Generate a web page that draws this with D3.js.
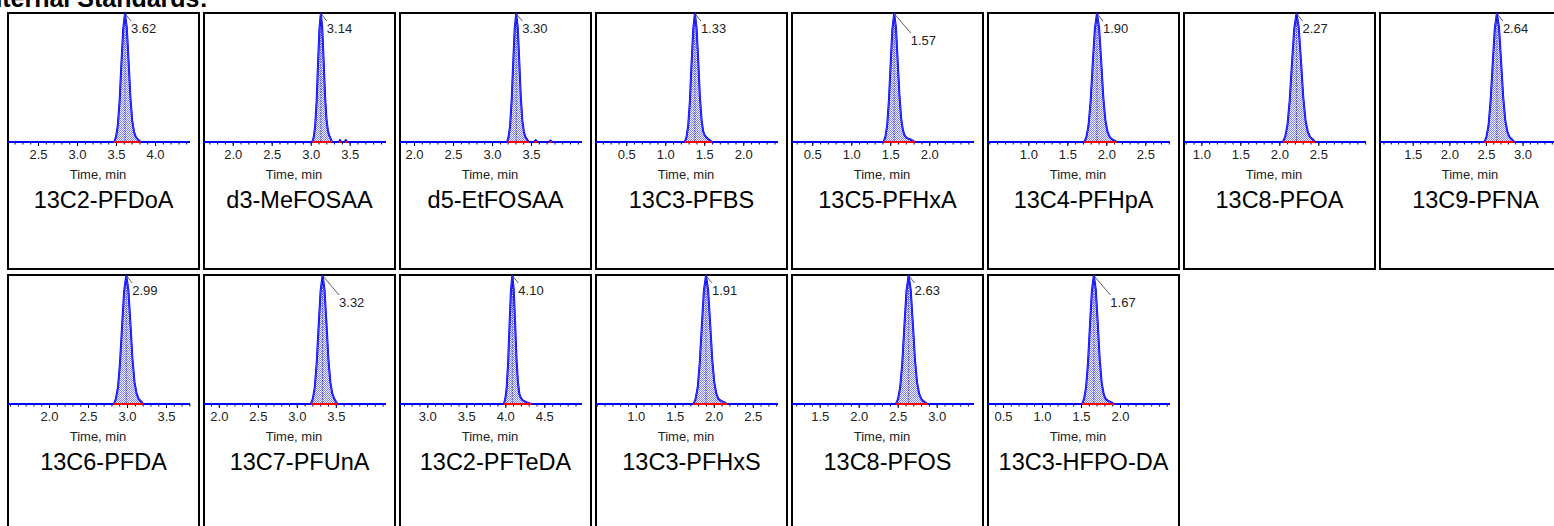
<!DOCTYPE html>
<html><head><meta charset="utf-8">
<script src="https://cdn.jsdelivr.net/npm/d3@7/dist/d3.min.js"></script>
<style>body{margin:0;background:#fff;overflow:hidden}svg{display:block}</style>
</head><body>
<script>
// ---------------- DATA ----------------
const titleText = "Internal Standards:";
const axisTitle = "Time, min";
const compounds = ["13C2-PFDoA","d3-MeFOSAA","d5-EtFOSAA","13C3-PFBS","13C5-PFHxA","13C4-PFHpA","13C8-PFOA","13C9-PFNA",
                   "13C6-PFDA","13C7-PFUnA","13C2-PFTeDA","13C3-PFHxS","13C8-PFOS","13C3-HFPO-DA"];
const rtLabels = ["3.62","3.14","3.30","1.33","1.57","1.90","2.27","2.64","2.99","3.32","4.10","1.91","2.63","1.67"];
const timeDomains = [[2.115,4.448],[1.632,3.965],[1.82,4.153],[0.112,2.445],[0.24,2.573],[0.483,2.816],[0.778,3.111],[1.053,3.539],
                     [1.474,3.807],[1.81,4.143],[2.65,4.983],[0.49,2.823],[1.145,3.478],[0.308,2.641]];
const tickLabels = [["2.5","3.0","3.5","4.0"],["2.0","2.5","3.0","3.5"],["2.0","2.5","3.0","3.5"],["0.5","1.0","1.5","2.0"],
                    ["0.5","1.0","1.5","2.0"],["1.0","1.5","2.0","2.5"],["1.0","1.5","2.0","2.5"],["1.5","2.0","2.5","3.0"],
                    ["2.0","2.5","3.0","3.5"],["2.0","2.5","3.0","3.5"],["3.0","3.5","4.0","4.5"],["1.0","1.5","2.0","2.5"],
                    ["1.5","2.0","2.5","3.0"],["0.5","1.0","1.5","2.0"]];
// peak traces: [time (min), relative intensity (%)]
const pfdoa  = [[3.477,0],[3.500,4],[3.523,13],[3.546,32],[3.569,61],[3.592,88],[3.615,100],[3.638,89],[3.661,63],[3.684,35],[3.707,17],[3.730,8],[3.753,4],[3.781,2],[3.815,0]];
const mefosaa= [[3.022,0],[3.040,4],[3.058,13],[3.076,32],[3.094,61],[3.112,88],[3.130,100],[3.148,89],[3.166,63],[3.184,36],[3.202,18],[3.220,9],[3.238,5],[3.260,2],[3.275,0]];
const etfosaa= [[3.193,0],[3.212,4],[3.232,13],[3.251,32],[3.271,61],[3.290,88],[3.310,100],[3.330,89],[3.349,63],[3.369,35],[3.388,17],[3.408,8],[3.427,4],[3.450,2],[3.470,0]];
const pfbs   = [[1.251,0],[1.273,4],[1.294,13],[1.316,32],[1.337,61],[1.359,88],[1.380,100],[1.401,89],[1.423,63],[1.444,35],[1.466,17],[1.487,8],[1.509,5],[1.535,3],[1.600,0]];
const pfhxa  = [[1.415,0],[1.437,4],[1.460,13],[1.482,32],[1.505,61],[1.527,88],[1.550,100],[1.573,89],[1.595,63],[1.618,36],[1.640,18],[1.663,9],[1.685,5],[1.712,3],[1.760,2],[1.817,0]];
const pfhpa  = [[1.718,0],[1.745,4],[1.772,13],[1.799,32],[1.826,61],[1.853,88],[1.880,100],[1.907,89],[1.934,63],[1.961,35],[1.988,17],[2.015,8],[2.042,4],[2.074,2],[2.136,0]];
const pfoa   = [[2.046,0],[2.075,4],[2.104,13],[2.133,32],[2.162,61],[2.191,88],[2.220,100],[2.249,89],[2.278,63],[2.307,35],[2.336,17],[2.365,8],[2.394,4],[2.429,2],[2.460,0]];
const pfna   = [[2.479,0],[2.507,4],[2.536,13],[2.564,32],[2.593,61],[2.621,88],[2.650,100],[2.679,89],[2.707,63],[2.736,35],[2.764,17],[2.793,8],[2.821,4],[2.855,2],[2.887,0]];
const pfda   = [[2.831,0],[2.857,4],[2.884,13],[2.910,32],[2.937,61],[2.963,88],[2.990,100],[3.017,89],[3.043,63],[3.070,35],[3.096,17],[3.123,8],[3.149,4],[3.181,2],[3.205,0]];
const pfuna  = [[3.180,0],[3.205,4],[3.230,13],[3.255,32],[3.280,61],[3.305,88],[3.330,100],[3.355,89],[3.380,63],[3.405,35],[3.430,17],[3.455,8],[3.480,4],[3.500,2],[3.520,0]];
const pfteda = [[3.982,0],[4.000,4],[4.018,13],[4.036,32],[4.054,61],[4.072,88],[4.090,100],[4.108,89],[4.126,63],[4.144,35],[4.162,17],[4.180,8],[4.198,5],[4.220,3],[4.270,1.5],[4.330,0]];
const pfhxs  = [[1.741,0],[1.767,4],[1.794,13],[1.820,32],[1.847,61],[1.873,88],[1.900,100],[1.927,89],[1.953,63],[1.980,35],[2.006,17],[2.033,8],[2.059,4],[2.091,2.5],[2.130,1.5],[2.170,0]];
const pfos   = [[2.478,0],[2.505,4],[2.532,13],[2.559,32],[2.586,61],[2.613,88],[2.640,100],[2.667,89],[2.694,63],[2.721,35],[2.748,17],[2.775,8],[2.802,4],[2.834,2],[2.880,0]];
const hfpoda = [[1.515,0],[1.540,4],[1.565,13],[1.590,32],[1.615,61],[1.640,88],[1.665,100],[1.690,89],[1.715,63],[1.740,35],[1.765,17],[1.790,8],[1.815,4],[1.845,2.5],[1.885,1.5],[1.925,0]];
const peaks = [pfdoa,mefosaa,etfosaa,pfbs,pfhxa,pfhpa,pfoa,pfna,pfda,pfuna,pfteda,pfhxs,pfos,hfpoda];
// small noise features after the main peak (time, intensity)
const mefosaaNoise = [[3.360,0],[3.375,1.5],[3.390,0],[3.435,0],[3.450,1.5],[3.465,0]];
const etfosaaNoise = [[3.540,0],[3.560,1.5],[3.580,0],[3.730,0],[3.750,1.2],[3.770,0]];
const noise = [[],mefosaaNoise,etfosaaNoise,[],[],[],[],[],[],[],[],[],[],[]];

// ---------------- LAYOUT ----------------
const W = 1554, H = 526;
const FONT = "'Liberation Sans', Arial, sans-serif";
const perRow = 8, colStep = 196, rowStep = 262, left0 = 7, top0 = 12, boxW = 193, boxH = 258;
const baseOff = 130;
const pxPerMin = [78,78,78,78,78,78,78,73.2,78,78,78,78,78,78];
const farLabel = [false,false,false,false,true,false,false,false,false,true,false,false,false,true];

const svg = d3.select("body").append("svg").attr("width", W).attr("height", H);
const defs = svg.append("defs");
const pat = defs.append("pattern").attr("id","dots").attr("patternUnits","userSpaceOnUse")
  .attr("width",2).attr("height",2);
pat.append("rect").attr("width",2).attr("height",2).attr("fill","#f2f2ff");
pat.append("rect").attr("x",0).attr("y",0).attr("width",1).attr("height",1).attr("fill","#8282ff");
pat.append("rect").attr("x",1).attr("y",1).attr("width",1).attr("height",1).attr("fill","#8282ff");

svg.append("text").attr("x",-20).attr("y",7).attr("font-family",FONT).attr("font-weight","bold")
  .attr("font-size",25).attr("fill","#000").text(titleText);

compounds.forEach((name, i) => {
  const col = i % perRow, row = Math.floor(i / perRow);
  const px = left0 + col * colStep, py = top0 + row * rowStep;
  const g = svg.append("g");
  const [d0, d1] = timeDomains[i];
  const x = d3.scaleLinear().domain([d0, d1]).range([px + 1, px + 1 + (d1 - d0) * pxPerMin[i]]);
  const y = d3.scaleLinear().domain([0, 100]).range([py + baseOff, py + 1.5]);
  const base = y(0);

  // box
  g.append("rect").attr("x", px + 1).attr("y", py + 1).attr("width", boxW - 2).attr("height", boxH - 2)
    .attr("fill", "#fff").attr("stroke", "#000").attr("stroke-width", 2);

  // minor ticks
  const minor = d3.range(Math.ceil(d0 * 10), Math.floor(d1 * 10) + 1).map(v => v / 10);
  g.append("g").attr("transform", `translate(0,${base})`)
    .call(d3.axisBottom(x).tickValues(minor).tickSize(2.5).tickFormat(""))
    .call(s => s.select(".domain").remove())
    .call(s => s.selectAll("line").attr("stroke", "#000040").attr("stroke-width", 1));
  // major ticks + labels
  const majors = tickLabels[i].map(Number);
  g.append("g").attr("transform", `translate(0,${base})`)
    .call(d3.axisBottom(x).tickValues(majors).tickSize(4).tickPadding(4).tickFormat((d, k) => tickLabels[i][k]))
    .call(s => s.select(".domain").remove())
    .call(s => s.selectAll("line").attr("stroke", "#000040"))
    .call(s => s.selectAll("text").attr("font-family", FONT).attr("font-size", 13).attr("fill", "#222"));

  // axis title
  g.append("text").attr("x", px + 91).attr("y", base + 36.5).attr("text-anchor", "middle")
    .attr("font-family", FONT).attr("font-size", 13).attr("fill", "#222").text(axisTitle);
  // compound name
  g.append("text").attr("x", px + boxW / 2).attr("y", py + 196).attr("text-anchor", "middle")
    .attr("font-family", FONT).attr("font-size", 23.5).attr("fill", "#000").text(name);

  // trace
  const pk = peaks[i];
  const nz = noise[i];
  const trace = [[d0, 0], ...pk, ...nz, [d1, 0]];
  const line = d3.line().x(d => x(d[0])).y(d => y(d[1]));
  const area = d3.area().x(d => x(d[0])).y0(base).y1(d => y(d[1]));
  g.append("path").datum(pk).attr("d", area).attr("fill", "url(#dots)").attr("stroke", "none");
  g.append("path").datum(trace).attr("d", line).attr("fill", "none").attr("stroke", "#0000ff").attr("stroke-width", 2)
    .attr("stroke-linejoin", "round");
  g.append("path").datum(pk).attr("d", line).attr("fill", "none").attr("stroke", "#3a3aff").attr("stroke-width", 1);
  // apex marker
  const apex = pk.reduce((a, b) => (b[1] > a[1] ? b : a));
  g.append("line").attr("x1", x(apex[0])).attr("x2", x(apex[0])).attr("y1", y(apex[1])).attr("y2", base)
    .attr("stroke", "#0000a0").attr("stroke-width", 1).attr("stroke-dasharray", "1,2");
  // integration baseline
  g.append("line").attr("x1", x(pk[0][0])).attr("x2", x(pk[pk.length - 1][0])).attr("y1", base).attr("y2", base)
    .attr("stroke", "#ff0000").attr("stroke-width", 2);
  if (nz.length) {
    for (let k = 0; k < nz.length; k += 3) {
      g.append("line").attr("x1", x(nz[k][0])).attr("x2", x(nz[k + 2][0])).attr("y1", base).attr("y2", base)
        .attr("stroke", "#ff0000").attr("stroke-width", 2);
    }
  }

  // RT label
  const ax = x(apex[0]), ay = y(apex[1]);
  const far = farLabel[i];
  const lx = ax + (far ? 16.5 : 6), ly = ay + (far ? 19.5 : 7.5);
  g.append("line").attr("x1", ax).attr("y1", ay).attr("x2", lx).attr("y2", ly).attr("stroke", "#333").attr("stroke-width", 0.8);
  g.append("text").attr("x", lx).attr("y", ly + 12).attr("font-family", FONT).attr("font-size", 13)
    .attr("fill", "#222").text(rtLabels[i]);
});
</script>
</body></html>
